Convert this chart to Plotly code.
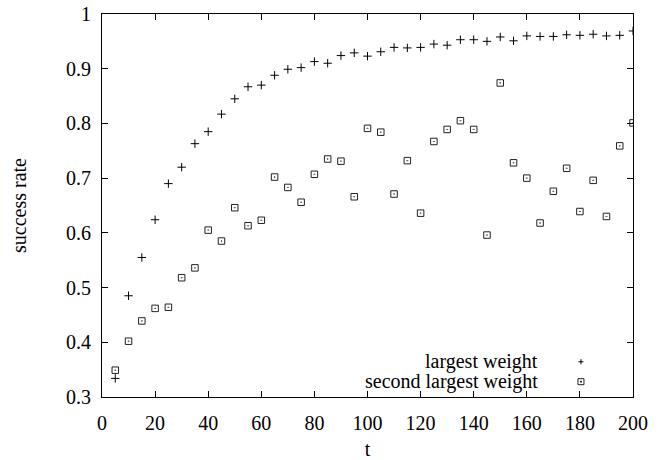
import plotly.graph_objects as go

# Success rate over time for the two strongest weights
t = list(range(5, 205, 5))

largest = [0.334, 0.485, 0.555, 0.624, 0.690, 0.720, 0.763, 0.785, 0.817, 0.845,
           0.867, 0.870, 0.888, 0.899, 0.902, 0.913, 0.910, 0.924, 0.929, 0.923,
           0.931, 0.939, 0.938, 0.939, 0.945, 0.943, 0.953, 0.953, 0.950, 0.958,
           0.951, 0.960, 0.959, 0.959, 0.962, 0.961, 0.963, 0.960, 0.961, 0.969]

second = [0.349, 0.402, 0.439, 0.462, 0.464, 0.518, 0.536, 0.605, 0.585, 0.646,
          0.613, 0.623, 0.702, 0.683, 0.656, 0.707, 0.735, 0.731, 0.666, 0.791,
          0.784, 0.671, 0.732, 0.636, 0.767, 0.789, 0.805, 0.789, 0.596, 0.874,
          0.728, 0.700, 0.618, 0.676, 0.718, 0.639, 0.696, 0.630, 0.759, 0.801]

series_names = ["largest weight", "second largest weight"]
x_ticks = list(range(0, 201, 20))
y_ticks = [0.3, 0.4, 0.5, 0.6, 0.7, 0.8, 0.9, 1.0]
y_tick_text = ["0.3", "0.4", "0.5", "0.6", "0.7", "0.8", "0.9", "1"]

FONT = "Liberation Serif, Times New Roman, serif"
FS = 20

fig = go.Figure()
fig.add_trace(go.Scatter(
    x=t, y=largest, mode="markers", name=series_names[0],
    marker=dict(symbol="cross-thin", size=6, color="black",
                line=dict(width=1, color="black")),
    showlegend=False,
))
fig.add_trace(go.Scatter(
    x=t, y=second, mode="markers", name=series_names[1],
    marker=dict(symbol="square-open-dot", size=6.5, color="#222",
                line=dict(width=1, color="#222")),
    showlegend=False,
))

# gnuplot-style key: right-aligned text with the symbol to its right
key_text_x = 0.825
key_sym_x = 0.902
key_rows = [0.092, 0.040]
for name, yy in zip(series_names, key_rows):
    fig.add_annotation(x=key_text_x, y=yy, xref="paper", yref="paper",
                       text=name, showarrow=False, xanchor="right", yanchor="middle",
                       font=dict(family=FONT, size=FS, color="black"))

# key symbols drawn as shapes in paper space
px, py = 1 / 531, 1 / 383
fig.add_shape(type="line", xref="paper", yref="paper",
              x0=key_sym_x - 2.5 * px, x1=key_sym_x + 2.5 * px, y0=key_rows[0], y1=key_rows[0],
              line=dict(color="black", width=1))
fig.add_shape(type="line", xref="paper", yref="paper",
              x0=key_sym_x, x1=key_sym_x, y0=key_rows[0] - 2.5 * py, y1=key_rows[0] + 2.5 * py,
              line=dict(color="black", width=1))
fig.add_shape(type="rect", xref="paper", yref="paper",
              x0=key_sym_x - 3 * px, x1=key_sym_x + 3 * px,
              y0=key_rows[1] - 3 * py, y1=key_rows[1] + 3 * py,
              line=dict(color="#222", width=1))
fig.add_shape(type="rect", xref="paper", yref="paper",
              x0=key_sym_x - 0.5 * px, x1=key_sym_x + 0.5 * px,
              y0=key_rows[1] - 0.5 * py, y1=key_rows[1] + 0.5 * py,
              line=dict(color="#222", width=1), fillcolor="#222")

axis_common = dict(
    showgrid=False, zeroline=False, showline=True, linecolor="black", linewidth=1,
    mirror="allticks", ticks="inside", ticklen=6, tickcolor="black", tickwidth=1,
    tickfont=dict(family=FONT, size=FS, color="black"), automargin=False,
)

fig.update_xaxes(range=[0, 200], tickvals=x_ticks, ticklabelstandoff=8,
                 title=dict(text="t", font=dict(family=FONT, size=FS, color="black"), standoff=14),
                 **axis_common)
fig.update_yaxes(range=[0.3, 1.0], tickvals=y_ticks, ticktext=y_tick_text, ticklabelstandoff=6,
                 title=dict(text="success rate", font=dict(family=FONT, size=FS, color="black"), standoff=34),
                 **axis_common)

fig.update_layout(
    width=665, height=460,
    margin=dict(l=102, r=32, t=14, b=63),
    paper_bgcolor="white", plot_bgcolor="white",
    font=dict(family=FONT, size=FS, color="black"),
)

fig.write_html("out.html")
